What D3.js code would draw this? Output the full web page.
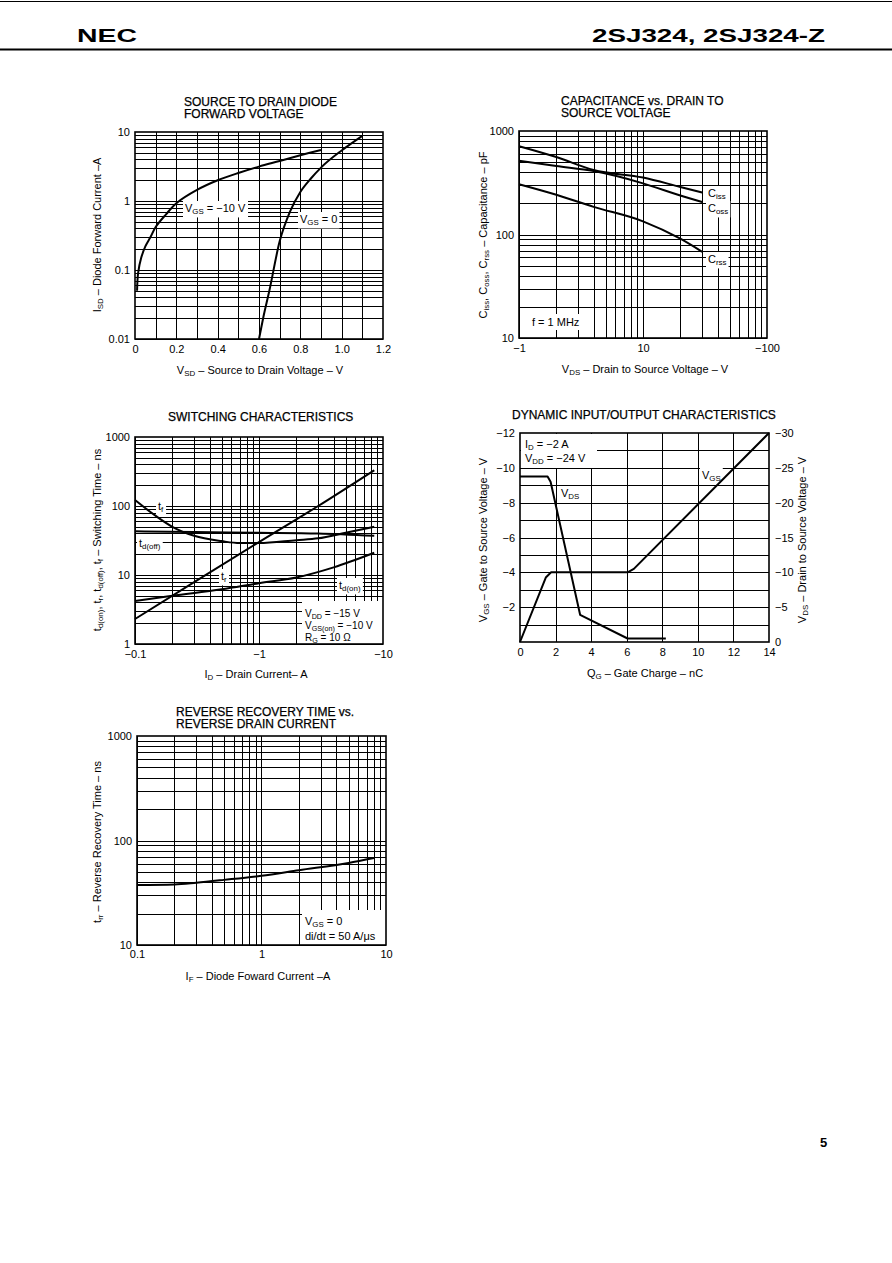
<!DOCTYPE html>
<html><head><meta charset="utf-8">
<script src="https://cdn.jsdelivr.net/npm/d3@7"></script>
<style>
body{margin:0;background:#fff;}
svg{display:block;font-family:"Liberation Sans",Arial,Helvetica,sans-serif;}
</style></head><body>
<svg id="page" width="892" height="1263"></svg>
<script>
// ---------- DATA ----------
// Chart 1: Source to drain diode forward voltage
const vsdTicks = [0, 0.2, 0.4, 0.6, 0.8, 1.0, 1.2];
const vsdTickLabels = ["0", "0.2", "0.4", "0.6", "0.8", "1.0", "1.2"];
const vsdGridLines = [0.1, 0.2, 0.3, 0.4, 0.5, 0.6, 0.7, 0.8, 0.9, 1.0, 1.1];
const isdTicks = [0.01, 0.1, 1, 10];
const isdTickLabels = ["0.01", "0.1", "1", "10"];
const vsdVgsM10 = [0.01, 0.015, 0.03, 0.05, 0.075, 0.1, 0.15, 0.2, 0.3, 0.4, 0.5, 0.6, 0.7, 0.8, 0.9];
const isdVgsM10 = [0.05, 0.09, 0.15, 0.22, 0.3, 0.42, 0.64, 0.93, 1.45, 2.0, 2.55, 3.15, 3.8, 4.6, 5.5];
const vsdVgs0 = [0.6, 0.62, 0.65, 0.7, 0.75, 0.8, 0.85, 0.9, 1.0, 1.1];
const isdVgs0 = [0.01, 0.02, 0.05, 0.26, 0.7, 1.35, 2.1, 3.05, 5.4, 8.8];

// Chart 2: Capacitance vs drain to source voltage
const capVdsTicks = [1, 10, 100];
const capVdsTickLabels = ["\u22121", "10", "\u2212100"];
const capTicks = [10, 100, 1000];
const capTickLabels = ["10", "100", "1000"];
const capVds = [1, 2, 4, 10, 20, 30];
const ciss = [713, 560, 420, 355, 288, 255];
const coss = [515, 458, 410, 312, 238, 206];
const crss = [306, 242, 185, 134, 91, 68];

// Chart 3: Switching characteristics
const swIdTicks = [0.1, 1, 10];
const swIdTickLabels = ["\u22120.1", "\u22121", "\u221210"];
const swTimeTicks = [1, 10, 100, 1000];
const swTimeTickLabels = ["1", "10", "100", "1000"];
const idTf = [0.1, 0.15, 0.2, 0.3, 0.5, 0.7, 1, 2, 3, 5, 8.5];
const tfVals = [122, 70, 50, 37, 31, 29, 29, 32, 34, 41, 50];
const idTdoff = [0.1, 0.3, 1, 3, 8.5];
const tdoffVals = [43, 42, 41, 40, 37];
const idTr = [0.1, 0.3, 1, 3, 8.5];
const trVals = [2.3, 7.9, 30, 100, 330];
const idTdon = [0.1, 0.2, 0.5, 1, 2, 4, 8.5];
const tdonVals = [4.2, 5.0, 6.2, 7.6, 9.2, 12.9, 21];

// Chart 4: Dynamic input/output characteristics
const qgTicks = [0, 2, 4, 6, 8, 10, 12, 14];
const qgTickLabels = ["0", "2", "4", "6", "8", "10", "12", "14"];
const vgsTicks = [-12, -10, -8, -6, -4, -2];
const vgsTickLabels = ["\u221212", "\u221210", "\u22128", "\u22126", "\u22124", "\u22122"];
const vdsRightTicks = [-30, -25, -20, -15, -10, -5, 0];
const vdsRightTickLabels = ["\u221230", "\u221225", "\u221220", "\u221215", "\u221210", "\u22125", "0"];
const dynHGrid = [-1, -2, -3, -4, -5, -6, -7, -8, -9, -10, -11];
const dynVGrid = [2, 4, 6, 8, 10, 12];
const qgVgs = [0, 1.45, 1.75, 6.05, 6.4, 14];
const vgsVals = [0, -3.7, -4.0, -4.0, -4.2, -12];
const qgVds = [0, 1.55, 1.72, 3.38, 6.05, 8.2];
const vdsVals = [-23.75, -23.75, -23.0, -3.9, -0.5, -0.5];

// Chart 5: Reverse recovery time vs reverse drain current
const ifTicks = [0.1, 1, 10];
const ifTickLabels = ["0.1", "1", "10"];
const trrTicks = [10, 100, 1000];
const trrTickLabels = ["10", "100", "1000"];
const ifVals = [0.1, 0.2, 0.3, 0.5, 1, 2, 5, 8];
const trrVals = [37.5, 38, 39.5, 42, 46, 52, 61, 68];

// ---------- HELPERS ----------
const FONT = "'Liberation Sans', Arial, Helvetica, sans-serif";
const page = d3.select("#page");

function logGrid(lo, hi) {
  const out = [];
  for (let d = lo; d < hi * 0.999; d *= 10)
    for (let m = 1; m < 10; m++) out.push(m * d);
  return out;
}
function px(v) { return Math.round(v) + 0.5; }
function hGrid(g, ys, vals, x0, x1) {
  g.append("g").selectAll("line").data(vals).join("line")
    .attr("x1", x0).attr("x2", x1)
    .attr("y1", d => px(ys(d))).attr("y2", d => px(ys(d)))
    .attr("stroke", "#000").attr("stroke-width", 1);
}
function vGrid(g, xs, vals, y0, y1) {
  g.append("g").selectAll("line").data(vals).join("line")
    .attr("y1", y0).attr("y2", y1)
    .attr("x1", d => px(xs(d))).attr("x2", d => px(xs(d)))
    .attr("stroke", "#000").attr("stroke-width", 1);
}
function frame(g, x0, y0, x1, y1) {
  g.append("rect").attr("x", x0).attr("y", y0).attr("width", x1 - x0).attr("height", y1 - y0)
    .attr("fill", "none").attr("stroke", "#000").attr("stroke-width", 1.6);
}
function rich(g, x, y, parts, size, anchor, subShift) {
  size = size || 11;
  const sh = subShift === undefined ? size * 0.22 : subShift;
  const t = g.append("text").attr("x", x).attr("y", y).attr("font-size", size)
    .attr("text-anchor", anchor || "start").attr("font-family", FONT).attr("fill", "#000");
  let shifted = false;
  parts.forEach(p => {
    const isSub = Array.isArray(p);
    const s = isSub ? p[0] : p;
    const ts = t.append("tspan").text(s);
    if (isSub) {
      ts.attr("font-size", size * 0.72);
      if (!shifted) { ts.attr("dy", sh); shifted = true; }
    } else if (shifted) { ts.attr("dy", -sh); shifted = false; }
  });
  return t;
}
function bgBox(g, t, padX, padY) {
  const b = t.node().getBBox();
  g.insert("rect", () => t.node())
    .attr("x", b.x - padX).attr("y", b.y - padY)
    .attr("width", b.width + 2 * padX).attr("height", b.height + 2 * padY)
    .attr("fill", "#fff");
}
function whiteRect(g, x0, y0, x1, y1) {
  g.append("rect").attr("x", x0).attr("y", y0).attr("width", x1 - x0).attr("height", y1 - y0).attr("fill", "#fff");
}
function styleAxis(sel, size) {
  sel.attr("font-size", size || 11).attr("font-family", FONT);
  sel.select(".domain").remove();
  sel.selectAll(".tick line").remove();
  sel.selectAll(".tick text").attr("fill", "#000");
}
function curve(g, xs, ys, xv, yv, kind) {
  const line = d3.line().x(d => xs(d[0])).y(d => ys(d[1])).curve(kind || d3.curveMonotoneX);
  g.append("path").datum(d3.zip(xv, yv)).attr("d", line)
    .attr("fill", "none").attr("stroke", "#000").attr("stroke-width", 2)
    .attr("stroke-linejoin", "round");
}
function title(lines, x, y0, dy) {
  lines.forEach((s, i) => page.append("text").attr("x", x).attr("y", y0 + i * dy)
    .attr("font-size", 12).attr("font-family", FONT).attr("fill", "#000")
    .attr("stroke", "#000").attr("stroke-width", 0.25).text(s));
}
function ylabel(x, y, parts) {
  const g = page.append("g").attr("transform", `translate(${x},${y}) rotate(-90)`);
  rich(g, 0, 0, parts, 11, "middle");
}

// ---------- HEADER ----------
page.append("line").attr("x1", 0).attr("x2", 892).attr("y1", 1.5).attr("y2", 1.5).attr("stroke", "#000").attr("stroke-width", 1);
page.append("text").attr("x", 77).attr("y", 42).attr("font-size", 19).attr("font-weight", "bold")
  .attr("font-family", FONT).attr("textLength", 60).attr("lengthAdjust", "spacingAndGlyphs").text("NEC");
page.append("text").attr("x", 592).attr("y", 42).attr("font-size", 19).attr("font-weight", "bold")
  .attr("font-family", FONT).attr("textLength", 233).attr("lengthAdjust", "spacingAndGlyphs").text("2SJ324, 2SJ324-Z");
page.append("line").attr("x1", 0).attr("x2", 892).attr("y1", 49.5).attr("y2", 49.5).attr("stroke", "#000").attr("stroke-width", 2);
page.append("text").attr("x", 820).attr("y", 1147).attr("font-size", 13).attr("font-weight", "bold")
  .attr("font-family", FONT).text("5");

// ---------- CHART 1 ----------
{
  const X0 = 135, X1 = 383, Y0 = 132, Y1 = 339;
  const g = page.append("g");
  const xs = d3.scaleLinear().domain([0, 1.2]).range([X0, X1]);
  const ys = d3.scaleLog().domain([0.01, 10]).range([Y1, Y0]);
  hGrid(g, ys, logGrid(0.01, 10), X0, X1);
  vGrid(g, xs, vsdGridLines, Y0, Y1);
  const t1 = rich(g, 185, 212, ["V", ["GS"], " = \u221210 V"]);
  bgBox(g, t1, 2, 1);
  const t2 = rich(g, 300, 223, ["V", ["GS"], " = 0"]);
  bgBox(g, t2, 2, 1);
  curve(g, xs, ys, vsdVgsM10, isdVgsM10, d3.curveCatmullRom);
  curve(g, xs, ys, vsdVgs0, isdVgs0);
  frame(g, X0, Y0, X1, Y1);
  g.append("g").attr("transform", `translate(0,${Y1})`)
    .call(d3.axisBottom(xs).tickValues(vsdTicks).tickFormat((d, i) => vsdTickLabels[i]).tickSize(0).tickPadding(6))
    .call(s => styleAxis(s));
  g.append("g").attr("transform", `translate(${X0},0)`)
    .call(d3.axisLeft(ys).tickValues(isdTicks).tickFormat((d, i) => isdTickLabels[i]).tickSize(0).tickPadding(5))
    .call(s => styleAxis(s));
  title(["SOURCE TO DRAIN DIODE", "FORWARD VOLTAGE"], 184, 106, 11.5);
  rich(page, 260, 374, ["V", ["SD"], " \u2013 Source to Drain Voltage \u2013 V"], 11, "middle");
  ylabel(101, 235, ["I", ["SD"], " \u2013 Diode Forward Current \u2013A"]);
}

// ---------- CHART 2 ----------
{
  const X0 = 519, X1 = 767, Y0 = 131, Y1 = 338;
  const g = page.append("g");
  const xs = d3.scaleLog().domain([1, 100]).range([X0, X1]);
  const ys = d3.scaleLog().domain([10, 1000]).range([Y1, Y0]);
  hGrid(g, ys, logGrid(10, 1000), X0, X1);
  vGrid(g, xs, logGrid(1, 100), Y0, Y1);
  const a = rich(g, 532, 326, ["f = 1 MHz"]); bgBox(g, a, 3, 2);
  const b = rich(g, 708, 197, ["C", ["iss"]]); bgBox(g, b, 2, 1);
  const c = rich(g, 708, 212, ["C", ["oss"]]); bgBox(g, c, 2, 1);
  const d = rich(g, 708, 263, ["C", ["rss"]]); bgBox(g, d, 2, 1);
  curve(g, xs, ys, capVds, ciss);
  curve(g, xs, ys, capVds, coss);
  curve(g, xs, ys, capVds, crss);
  frame(g, X0, Y0, X1, Y1);
  g.append("g").attr("transform", `translate(0,${Y1})`)
    .call(d3.axisBottom(xs).tickValues(capVdsTicks).tickFormat((d, i) => capVdsTickLabels[i]).tickSize(0).tickPadding(6))
    .call(s => styleAxis(s));
  g.append("g").attr("transform", `translate(${X0},0)`)
    .call(d3.axisLeft(ys).tickValues(capTicks).tickFormat((d, i) => capTickLabels[i]).tickSize(0).tickPadding(5))
    .call(s => styleAxis(s));
  title(["CAPACITANCE vs. DRAIN TO", "SOURCE VOLTAGE"], 561, 105, 11.5);
  rich(page, 645, 373, ["V", ["DS"], " \u2013 Drain to Source Voltage \u2013 V"], 11, "middle");
  ylabel(487, 235, ["C", ["iss"], ", C", ["oss"], ", C", ["rss"], " \u2013 Capacitance \u2013 pF"]);
}

// ---------- CHART 3 ----------
{
  const X0 = 135, X1 = 383, Y0 = 437, Y1 = 644;
  const g = page.append("g");
  const xs = d3.scaleLog().domain([0.1, 10]).range([X0, X1]);
  const ys = d3.scaleLog().domain([1, 1000]).range([Y1, Y0]);
  hGrid(g, ys, logGrid(1, 1000), X0, X1);
  vGrid(g, xs, logGrid(0.1, 10), Y0, Y1);
  const a = rich(g, 158, 510, ["t", ["f"]]); bgBox(g, a, 2, 1);
  const b = rich(g, 139, 547, ["t", ["d(off)"]]); bgBox(g, b, 2, 1);
  const c = rich(g, 221, 580, ["t", ["r"]]); bgBox(g, c, 2, 1);
  const d = rich(g, 339, 589, ["t", ["d(on)"]]); bgBox(g, d, 2, 1);
  whiteRect(g, 302, 601, X1, Y1);
  rich(g, 305, 617, ["V", ["DD"], " = \u221215 V"], 10, "start", 1.5);
  rich(g, 305, 629, ["V", ["GS(on)"], " = \u221210 V"], 10, "start", 1.5);
  rich(g, 305, 641, ["R", ["G"], " = 10 \u03a9"], 10, "start", 1.5);
  curve(g, xs, ys, idTf, tfVals);
  curve(g, xs, ys, idTdoff, tdoffVals);
  curve(g, xs, ys, idTr, trVals);
  curve(g, xs, ys, idTdon, tdonVals);
  frame(g, X0, Y0, X1, Y1);
  g.append("g").attr("transform", `translate(0,${Y1})`)
    .call(d3.axisBottom(xs).tickValues(swIdTicks).tickFormat((d, i) => swIdTickLabels[i]).tickSize(0).tickPadding(6))
    .call(s => styleAxis(s));
  g.append("g").attr("transform", `translate(${X0},0)`)
    .call(d3.axisLeft(ys).tickValues(swTimeTicks).tickFormat((d, i) => swTimeTickLabels[i]).tickSize(0).tickPadding(5))
    .call(s => styleAxis(s));
  title(["SWITCHING CHARACTERISTICS"], 168, 421, 0);
  rich(page, 256, 678, ["I", ["D"], " \u2013 Drain Current\u2013 A"], 11, "middle");
  ylabel(101, 540, ["t", ["d(on)"], ", t", ["r"], ", t", ["d(off)"], ", t", ["f"], " \u2013 Switching Time \u2013 ns"]);
}

// ---------- CHART 4 ----------
{
  const X0 = 520, X1 = 769, Y0 = 433, Y1 = 642;
  const g = page.append("g");
  const xs = d3.scaleLinear().domain([0, 14]).range([X0, X1]);
  const ys = d3.scaleLinear().domain([0, -12]).range([Y1, Y0]);
  const ysR = d3.scaleLinear().domain([0, -30]).range([Y1, Y0]);
  hGrid(g, ys, dynHGrid, X0, X1);
  vGrid(g, xs, dynVGrid, Y0, Y1);
  whiteRect(g, X0 + 1, Y0 + 1, 597, 468);
  rich(g, 525, 448, ["I", ["D"], " = \u22122 A"]);
  rich(g, 525, 462, ["V", ["DD"], " = \u221224 V"]);
  const a = rich(g, 561, 497, ["V", ["DS"]]); bgBox(g, a, 2, 1);
  const b = rich(g, 702, 479, ["V", ["GS"]]); bgBox(g, b, 2, 1);
  curve(g, xs, ys, qgVgs, vgsVals, d3.curveLinear);
  curve(g, xs, ysR, qgVds, vdsVals, d3.curveLinear);
  frame(g, X0, Y0, X1, Y1);
  g.append("g").attr("transform", `translate(0,${Y1})`)
    .call(d3.axisBottom(xs).tickValues(qgTicks).tickFormat((d, i) => qgTickLabels[i]).tickSize(0).tickPadding(6))
    .call(s => styleAxis(s));
  g.append("g").attr("transform", `translate(${X0},0)`)
    .call(d3.axisLeft(ys).tickValues(vgsTicks).tickFormat((d, i) => vgsTickLabels[i]).tickSize(0).tickPadding(5))
    .call(s => styleAxis(s));
  g.append("g").attr("transform", `translate(${X1},0)`)
    .call(d3.axisRight(ysR).tickValues(vdsRightTicks).tickFormat((d, i) => vdsRightTickLabels[i]).tickSize(0).tickPadding(6))
    .call(s => styleAxis(s));
  title(["DYNAMIC INPUT/OUTPUT CHARACTERISTICS"], 512, 419, 0);
  rich(page, 645, 677, ["Q", ["G"], " \u2013 Gate Charge \u2013 nC"], 11, "middle");
  ylabel(487, 540, ["V", ["GS"], " \u2013 Gate to Source Voltage \u2013 V"]);
  ylabel(806, 540, ["V", ["DS"], " \u2013 Drain to Source Voltage \u2013 V"]);
}

// ---------- CHART 5 ----------
{
  const X0 = 137, X1 = 386, Y0 = 736, Y1 = 945;
  const g = page.append("g");
  const xs = d3.scaleLog().domain([0.1, 10]).range([X0, X1]);
  const ys = d3.scaleLog().domain([10, 1000]).range([Y1, Y0]);
  hGrid(g, ys, logGrid(10, 1000), X0, X1);
  vGrid(g, xs, logGrid(0.1, 10), Y0, Y1);
  whiteRect(g, 302, 910, X1, Y1);
  rich(g, 305, 925, ["V", ["GS"], " = 0"]);
  rich(g, 305, 940, ["di/dt = 50 A/\u03bcs"]);
  curve(g, xs, ys, ifVals, trrVals);
  frame(g, X0, Y0, X1, Y1);
  g.append("g").attr("transform", `translate(0,${Y1})`)
    .call(d3.axisBottom(xs).tickValues(ifTicks).tickFormat((d, i) => ifTickLabels[i]).tickSize(0).tickPadding(5))
    .call(s => styleAxis(s));
  g.append("g").attr("transform", `translate(${X0},0)`)
    .call(d3.axisLeft(ys).tickValues(trrTicks).tickFormat((d, i) => trrTickLabels[i]).tickSize(0).tickPadding(5))
    .call(s => styleAxis(s));
  title(["REVERSE RECOVERY TIME vs.", "REVERSE DRAIN CURRENT"], 176, 716, 11.5);
  rich(page, 258, 980, ["I", ["F"], " \u2013 Diode Foward Current \u2013A"], 11, "middle");
  ylabel(101, 842, ["t", ["rr"], " \u2013 Reverse Recovery Time \u2013 ns"]);
}
</script>
</body></html>
